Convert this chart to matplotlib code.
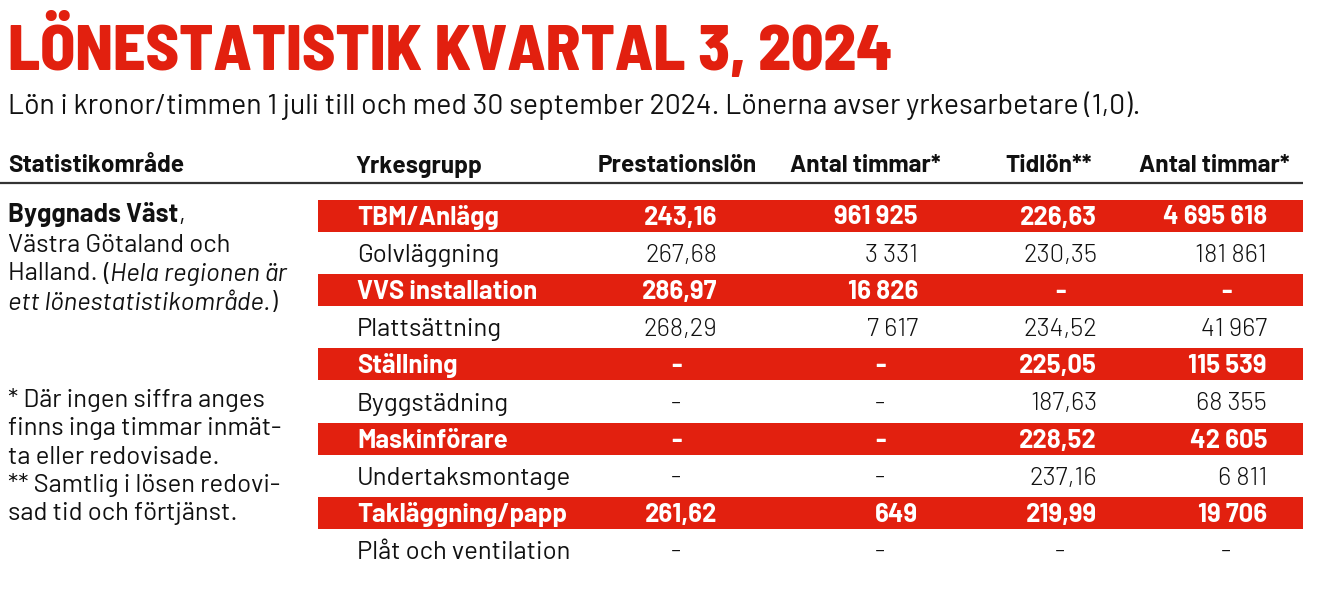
import matplotlib
matplotlib.use("Agg")
import matplotlib.pyplot as plt

# data
title = "LÖNESTATISTIK KVARTAL 3, 2024"
subtitle = "Lön i kronor/timmen 1 juli till och med 30 september 2024. Lönerna avser yrkesarbetare (1,0)."
headers = ["Prestationslön", "Antal timmar*", "Tidlön**", "Antal timmar*"]
groups = ["TBM/Anlägg", "Golvläggning", "VVS installation", "Plattsättning", "Ställning",
          "Byggstädning", "Maskinförare", "Undertaksmontage", "Takläggning/papp", "Plåt och ventilation"]
prest_lon = [243.16, 267.68, 286.97, 268.29, None, None, None, None, 261.62, None]
prest_tim = [961925, 3331, 16826, 7617, None, None, None, None, 649, None]
tid_lon = [226.63, 230.35, None, 234.52, 225.05, 187.63, 228.52, 237.16, 219.99, None]
tid_tim = [4695618, 181861, None, 41967, 115539, 68355, 42605, 6811, 19706, None]
footnotes = ["* Där ingen siffra anges", "finns inga timmar inmät-", "ta eller redovisade.",
             "** Samtlig i lösen redovi-", "sad tid och förtjänst."]

RED = "#e2200f"
INK = "#111111"
plt.rcParams["font.family"] = ["Barlow", "DejaVu Sans"]
BODY = 18.5
NUM = 18.5
HEAD = 17.5


def fmt_lon(v):
    return "-" if v is None else f"{v:.2f}".replace(".", ",")


def fmt_tim(v):
    return "-" if v is None else f"{v:,}".replace(",", " ")


fig = plt.figure(figsize=(13.2, 6), dpi=100)
ax = fig.add_axes([0, 0, 1, 1])
ax.set_xlim(0, 1320)
ax.set_ylim(600, 0)
ax.axis("off")

ax.text(8, 70, title, color=RED, fontsize=46, fontweight=800, va="baseline",
        family=["Barlow Semi Condensed", "DejaVu Sans"])
ax.text(8, 113.5, subtitle, color=INK, fontsize=20.5, fontweight=400, va="baseline")

# header row
ax.text(8, 172.5, "Statistikområde", color=INK, fontsize=HEAD, fontweight=700, va="baseline")
ax.text(355, 172.5, "Yrkesgrupp", color=INK, fontsize=HEAD, fontweight=700, va="baseline")
head_right = [757, 941, 1092, 1290]
for h, x in zip(headers, head_right):
    ax.text(x, 172.5, h, color=INK, fontsize=HEAD, fontweight=700, va="baseline", ha="right")
ax.hlines(182.5, 0, 1303, color="#333333", lw=1.6)

# rows
y0, pitch = 215.5, 37.2
num_right = [717, 918, 1097, 1267]
dash_x = [676, 880, 1060, 1226]
cols = [[fmt_lon(v) for v in prest_lon], [fmt_tim(v) for v in prest_tim],
        [fmt_lon(v) for v in tid_lon], [fmt_tim(v) for v in tid_tim]]
rows_y = [y0 + i * pitch for i in range(len(groups))]
hl = [i for i in range(len(groups)) if i % 2 == 0]
ax.barh([rows_y[i] for i in hl], 985, left=318, height=32, color=RED, lw=0)

for i, g in enumerate(groups):
    bold = i % 2 == 0
    c = "white" if bold else INK
    yb = rows_y[i] + 9
    ax.text(357, yb, g, color=c, fontsize=BODY, fontweight=700 if bold else 400, va="baseline")
    for j in range(4):
        s = cols[j][i]
        w = 700 if bold else 300
        if s == "-":
            ax.text(dash_x[j], yb, s, color=c, fontsize=NUM, fontweight=w, va="baseline", ha="center")
        else:
            ax.text(num_right[j], yb, s, color=c, fontsize=NUM, fontweight=w, va="baseline", ha="right")


# left description, mixed styles on one line
def line(x, y, parts):
    prev = None
    for s, kw in parts:
        if prev is None:
            prev = ax.text(x, y, s, color=INK, fontsize=BODY, va="baseline", **kw)
        else:
            prev = ax.annotate(s, xy=(1, 0), xycoords=prev, va="bottom", color=INK,
                               fontsize=BODY, **kw)


line(8, 222, [("Byggnads Väst", dict(fontweight=700)), (",", {})])
line(8, 251.5, [("Västra Götaland och", {})])
line(8, 280.5, [("Halland. ", {}), ("(", {}), ("Hela regionen är", dict(style="italic"))])
line(8, 309.5, [("ett lönestatistikområde.", dict(style="italic")), (")", {})])

for k, f in enumerate(footnotes):
    ax.text(8, 407 + k * 28.3, f, color=INK, fontsize=BODY, va="baseline")

fig.savefig("out.png", dpi=100)
